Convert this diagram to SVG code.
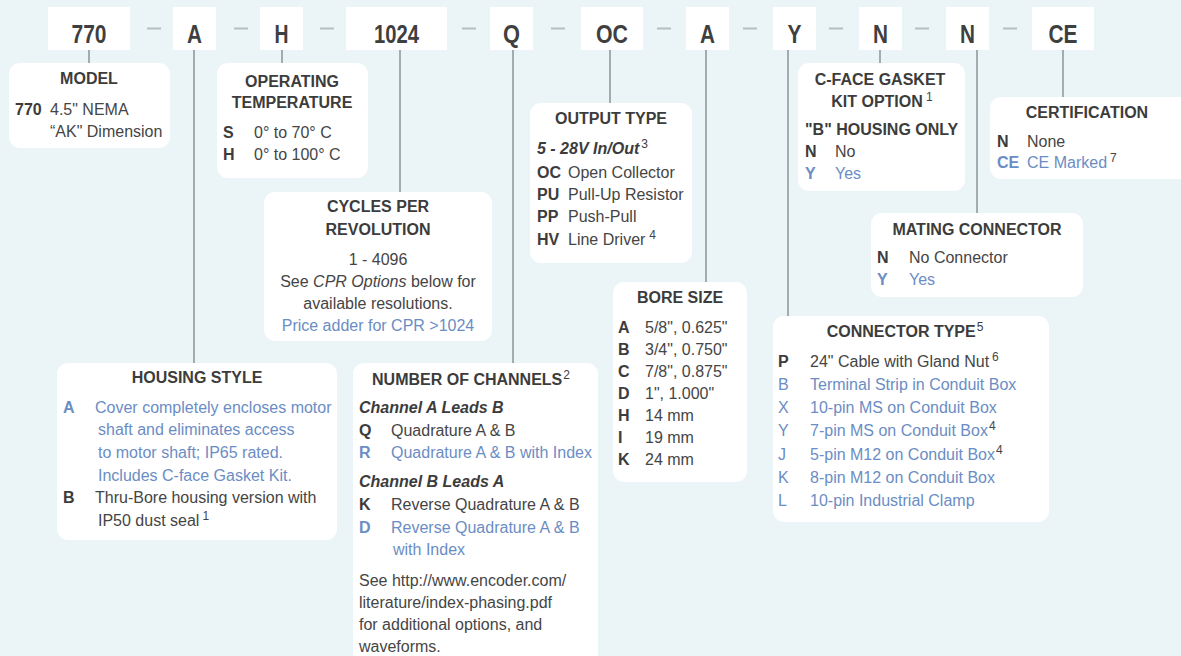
<svg xmlns="http://www.w3.org/2000/svg" width="1181" height="656" viewBox="0 0 1181 656">
<style>
text{font-family:"Liberation Sans",Arial,sans-serif;font-size:16px;fill:#454545}
.top{font-size:25px;font-weight:bold;fill:#3f3f3f;text-anchor:middle}
.h{font-weight:bold;fill:#3c3c3c;text-anchor:middle}
.b{font-weight:bold;fill:#3c3c3c}
.bl{fill:#6b8dc4}
.bbl{font-weight:bold;fill:#6b8dc4}
.bi{font-weight:bold;font-style:italic;fill:#3c3c3c}
.sup{font-size:12px}
.box{fill:#ffffff}
.tbox{fill:#ffffff}
.dash{stroke:#b4bfbf;stroke-width:2}
.conn{stroke:#8e9b9b;stroke-width:1.6;fill:none}
</style>
<rect width="1181" height="656" fill="#ebf4f7"/>

<g id="connectors">
<line class="conn" x1="89" y1="50" x2="89" y2="63"/>
<line class="conn" x1="194" y1="50" x2="194" y2="363"/>
<line class="conn" x1="282" y1="50" x2="282" y2="63"/>
<line class="conn" x1="400" y1="50" x2="400" y2="192"/>
<line class="conn" x1="513" y1="50" x2="513" y2="363"/>
<line class="conn" x1="610" y1="50" x2="610" y2="103"/>
<line class="conn" x1="706" y1="50" x2="706" y2="282"/>
<line class="conn" x1="788" y1="50" x2="788" y2="316"/>
<line class="conn" x1="880" y1="50" x2="880" y2="63"/>
<line class="conn" x1="977" y1="50" x2="977" y2="213"/>
<line class="conn" x1="1063" y1="50" x2="1063" y2="97"/>
</g>

<g id="code-bar">
<rect class="tbox" x="48" y="7" width="82" height="43"/>
<text class="top" x="89" y="43" textLength="35" lengthAdjust="spacingAndGlyphs">770</text>
<line class="dash" x1="147" y1="28.5" x2="161" y2="28.5"/>
<rect class="tbox" x="173" y="7" width="43" height="43"/>
<text class="top" x="194.5" y="43" textLength="15" lengthAdjust="spacingAndGlyphs">A</text>
<line class="dash" x1="234" y1="28.5" x2="248" y2="28.5"/>
<rect class="tbox" x="260" y="7" width="43" height="43"/>
<text class="top" x="281.5" y="43" textLength="14" lengthAdjust="spacingAndGlyphs">H</text>
<line class="dash" x1="320" y1="28.5" x2="334" y2="28.5"/>
<rect class="tbox" x="346" y="7" width="101" height="43"/>
<text class="top" x="396.5" y="43" textLength="45" lengthAdjust="spacingAndGlyphs">1024</text>
<line class="dash" x1="462" y1="28.5" x2="476" y2="28.5"/>
<rect class="tbox" x="490" y="7" width="43" height="43"/>
<text class="top" x="511.5" y="43" textLength="17" lengthAdjust="spacingAndGlyphs">Q</text>
<line class="dash" x1="551" y1="28.5" x2="565" y2="28.5"/>
<rect class="tbox" x="581" y="7" width="62" height="43"/>
<text class="top" x="612" y="43" textLength="32" lengthAdjust="spacingAndGlyphs">OC</text>
<line class="dash" x1="657" y1="28.5" x2="671" y2="28.5"/>
<rect class="tbox" x="686" y="7" width="43" height="43"/>
<text class="top" x="707.5" y="43" textLength="15" lengthAdjust="spacingAndGlyphs">A</text>
<line class="dash" x1="743" y1="28.5" x2="757" y2="28.5"/>
<rect class="tbox" x="773" y="7" width="43" height="43"/>
<text class="top" x="794.5" y="43" textLength="14" lengthAdjust="spacingAndGlyphs">Y</text>
<line class="dash" x1="829" y1="28.5" x2="843" y2="28.5"/>
<rect class="tbox" x="859" y="7" width="43" height="43"/>
<text class="top" x="880.5" y="43" textLength="15" lengthAdjust="spacingAndGlyphs">N</text>
<line class="dash" x1="915" y1="28.5" x2="929" y2="28.5"/>
<rect class="tbox" x="946" y="7" width="43" height="43"/>
<text class="top" x="967.5" y="43" textLength="15" lengthAdjust="spacingAndGlyphs">N</text>
<line class="dash" x1="1003" y1="28.5" x2="1017" y2="28.5"/>
<rect class="tbox" x="1032" y="7" width="62" height="43"/>
<text class="top" x="1063" y="43" textLength="29" lengthAdjust="spacingAndGlyphs">CE</text>
</g>

<g id="model">
<rect class="box" x="9" y="63" width="161" height="85" rx="11"/>
<text class="h" x="89" y="84">MODEL</text>
<text class="b" x="15" y="115">770</text>
<text x="50" y="115">4.5" NEMA</text>
<text x="50" y="137">“AK" Dimension</text>
</g>

<g id="operating-temperature">
<rect class="box" x="217" y="63" width="151" height="115" rx="11"/>
<text class="h" x="292" y="87">OPERATING</text>
<text class="h" x="292" y="108">TEMPERATURE</text>
<text class="b" x="223" y="138">S</text>
<text x="254" y="138">0° to 70° C</text>
<text class="b" x="223" y="160">H</text>
<text x="254" y="160">0° to 100° C</text>
</g>

<g id="cycles-per-revolution">
<rect class="box" x="264" y="192" width="228" height="149" rx="11"/>
<text class="h" x="378" y="212">CYCLES PER</text>
<text class="h" x="378" y="235">REVOLUTION</text>
<text x="378" y="265" text-anchor="middle">1 - 4096</text>
<text x="378" y="287" text-anchor="middle">See <tspan font-style="italic">CPR Options</tspan> below for</text>
<text x="378" y="309" text-anchor="middle">available resolutions.</text>
<text class="bl" x="378" y="331" text-anchor="middle">Price adder for CPR &gt;1024</text>
</g>

<g id="output-type">
<rect class="box" x="530" y="103" width="162" height="160" rx="11"/>
<text class="h" x="611" y="124">OUTPUT TYPE</text>
<text class="bi" x="537" y="154">5 - 28V In/Out<tspan class="sup" font-weight="normal" font-style="normal" dx="2" dy="-6">3</tspan></text>
<text class="b" x="537" y="178">OC</text>
<text x="568" y="178">Open Collector</text>
<text class="b" x="537" y="200">PU</text>
<text x="568" y="200">Pull-Up Resistor</text>
<text class="b" x="537" y="222">PP</text>
<text x="568" y="222">Push-Pull</text>
<text class="b" x="537" y="245">HV</text>
<text x="568" y="245">Line Driver<tspan class="sup" dx="4" dy="-6">4</tspan></text>
</g>

<g id="c-face-gasket">
<rect class="box" x="798" y="63" width="167" height="128" rx="11"/>
<text class="h" x="880" y="85">C-FACE GASKET</text>
<text class="h" x="877" y="107">KIT OPTION</text>
<text class="sup" x="926" y="101">1</text>
<text class="b" x="805" y="135">"B" HOUSING ONLY</text>
<text class="b" x="805" y="157">N</text>
<text x="835" y="157">No</text>
<text class="bbl" x="805" y="179">Y</text>
<text class="bl" x="835" y="179">Yes</text>
</g>

<g id="certification">
<rect class="box" x="990" y="97" width="200" height="82" rx="11"/>
<text class="h" x="1087" y="118">CERTIFICATION</text>
<text class="b" x="997" y="147">N</text>
<text x="1027" y="147">None</text>
<text class="bbl" x="997" y="168">CE</text>
<text class="bl" x="1027" y="168">CE Marked<tspan class="sup" fill="#454545" dx="3" dy="-6">7</tspan></text>
</g>

<g id="mating-connector">
<rect class="box" x="871" y="213" width="212" height="84" rx="11"/>
<text class="h" x="977" y="235">MATING CONNECTOR</text>
<text class="b" x="877" y="263">N</text>
<text x="909" y="263">No Connector</text>
<text class="bbl" x="877" y="285">Y</text>
<text class="bl" x="909" y="285">Yes</text>
</g>

<g id="bore-size">
<rect class="box" x="613" y="282" width="134" height="200" rx="11"/>
<text class="h" x="680" y="303">BORE SIZE</text>
<text class="b" x="618" y="333">A</text><text x="645" y="333">5/8", 0.625"</text>
<text class="b" x="618" y="355">B</text><text x="645" y="355">3/4", 0.750"</text>
<text class="b" x="618" y="377">C</text><text x="645" y="377">7/8", 0.875"</text>
<text class="b" x="618" y="399">D</text><text x="645" y="399">1", 1.000"</text>
<text class="b" x="618" y="421">H</text><text x="645" y="421">14 mm</text>
<text class="b" x="618" y="443">I</text><text x="645" y="443">19 mm</text>
<text class="b" x="618" y="465">K</text><text x="645" y="465">24 mm</text>
</g>

<g id="connector-type">
<rect class="box" x="773" y="316" width="276" height="206" rx="11"/>
<text class="h" x="905" y="337">CONNECTOR TYPE<tspan class="sup" font-weight="normal" dx="1" dy="-6">5</tspan></text>
<text class="b" x="778" y="367">P</text>
<text x="810" y="367">24" Cable with Gland Nut<tspan class="sup" dx="3" dy="-6">6</tspan></text>
<text class="bl" x="778" y="390">B</text><text class="bl" x="810" y="390">Terminal Strip in Conduit Box</text>
<text class="bl" x="778" y="413">X</text><text class="bl" x="810" y="413">10-pin MS on Conduit Box</text>
<text class="bl" x="778" y="436">Y</text><text class="bl" x="810" y="436">7-pin MS on Conduit Box<tspan class="sup" fill="#454545" dx="1" dy="-6">4</tspan></text>
<text class="bl" x="778" y="460">J</text><text class="bl" x="810" y="460">5-pin M12 on Conduit Box<tspan class="sup" fill="#454545" dx="1" dy="-6">4</tspan></text>
<text class="bl" x="778" y="483">K</text><text class="bl" x="810" y="483">8-pin M12 on Conduit Box</text>
<text class="bl" x="778" y="506">L</text><text class="bl" x="810" y="506">10-pin Industrial Clamp</text>
</g>

<g id="housing-style">
<rect class="box" x="57" y="363" width="280" height="177" rx="11"/>
<text class="h" x="197" y="383">HOUSING STYLE</text>
<text class="bbl" x="63" y="413">A</text>
<text class="bl" x="95" y="413">Cover completely encloses motor</text>
<text class="bl" x="98" y="435">shaft and eliminates access</text>
<text class="bl" x="98" y="458">to motor shaft; IP65 rated.</text>
<text class="bl" x="98" y="481">Includes C-face Gasket Kit.</text>
<text class="b" x="63" y="503">B</text>
<text x="95" y="503">Thru-Bore housing version with</text>
<text x="98" y="526">IP50 dust seal<tspan class="sup" dx="3" dy="-6">1</tspan></text>
</g>

<g id="number-of-channels">
<rect class="box" x="353" y="363" width="245" height="310" rx="11"/>
<text class="h" x="471" y="385">NUMBER OF CHANNELS<tspan class="sup" font-weight="normal" dx="1" dy="-6">2</tspan></text>
<text class="bi" x="359" y="413">Channel A Leads B</text>
<text class="b" x="359" y="436">Q</text><text x="391" y="436">Quadrature A &amp; B</text>
<text class="bbl" x="359" y="458">R</text><text class="bl" x="391" y="458">Quadrature A &amp; B with Index</text>
<text class="bi" x="359" y="487">Channel B Leads A</text>
<text class="b" x="359" y="510">K</text><text x="391" y="510">Reverse Quadrature A &amp; B</text>
<text class="bbl" x="359" y="533">D</text><text class="bl" x="391" y="533">Reverse Quadrature A &amp; B</text>
<text class="bl" x="393" y="555">with Index</text>
<text x="359" y="586">See http://www.encoder.com/</text>
<text x="359" y="608">literature/index-phasing.pdf</text>
<text x="359" y="630">for additional options, and</text>
<text x="359" y="652">waveforms.</text>
</g>
</svg>
